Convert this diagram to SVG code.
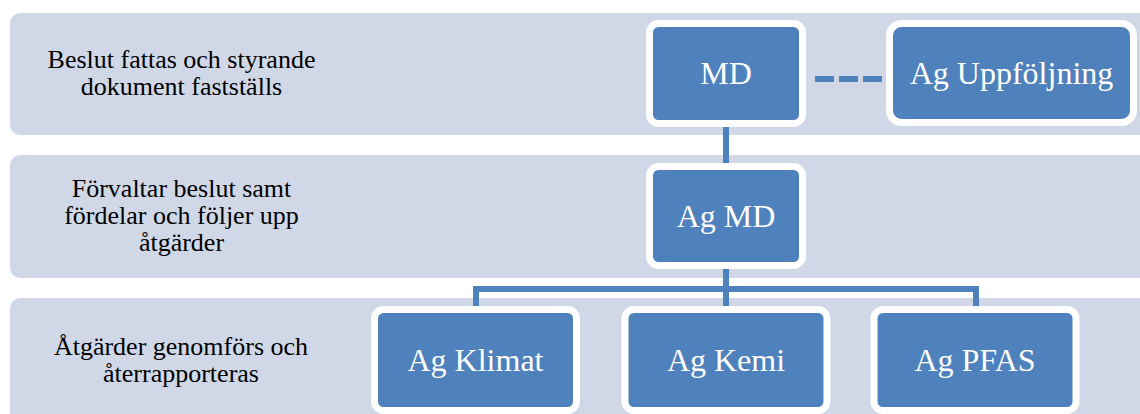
<svg xmlns="http://www.w3.org/2000/svg" width="1140" height="414" viewBox="0 0 1140 414">
  <style>
    .band { fill: #D0D8E8; }
    .lbl { font-family: 'Liberation Serif', 'DejaVu Serif', serif; font-size: 26px; fill: #000000; text-anchor: middle; }
    .node rect { fill: #4F81BD; stroke: #FFFFFF; stroke-width: 7; }
    .node text { font-family: 'Liberation Serif', 'DejaVu Serif', serif; font-size: 32px; fill: #FFFFFF; text-anchor: middle; }
    .conn { fill: none; stroke: #4F81BD; stroke-width: 6; }
  </style>
  <rect width="1140" height="414" fill="#FFFFFF"/>

  <g id="band1">
    <rect class="band" x="10" y="13" width="1150" height="122" rx="10"/>
    <text class="lbl" x="181.5" y="68" font-family="Liberation Serif, serif">Beslut fattas och styrande</text>
    <text class="lbl" x="181.5" y="95" font-family="Liberation Serif, serif">dokument fastställs</text>
  </g>
  <g id="band2">
    <rect class="band" x="10" y="155" width="1150" height="123" rx="10"/>
    <text class="lbl" x="181.5" y="197" font-family="Liberation Serif, serif">Förvaltar beslut samt</text>
    <text class="lbl" x="181.5" y="224" font-family="Liberation Serif, serif">fördelar och följer upp</text>
    <text class="lbl" x="181.5" y="251" font-family="Liberation Serif, serif">åtgärder</text>
  </g>
  <g id="band3">
    <rect class="band" x="10" y="298" width="1150" height="130" rx="10"/>
    <text class="lbl" x="181" y="355" font-family="Liberation Serif, serif">Åtgärder genomförs och</text>
    <text class="lbl" x="181" y="382" font-family="Liberation Serif, serif">återrapporteras</text>
  </g>

  <g id="connectors">
    <path class="conn" d="M726 127 V166"/>
    <path class="conn" d="M815 79 H882" stroke-dasharray="19 5"/>
    <path class="conn" d="M726 266 V309"/>
    <path class="conn" d="M476 309 V289 H976 V309" stroke-width="5"/>
  </g>

  <g id="node-md" class="node">
    <rect x="649.5" y="23.5" width="153" height="100" rx="9"/>
    <text x="726" y="84" font-family="Liberation Serif, serif">MD</text>
  </g>
  <g id="node-ag-uppfoljning" class="node">
    <rect x="889.5" y="23.5" width="244" height="99" rx="12"/>
    <text x="1011.5" y="84" font-family="Liberation Serif, serif">Ag Uppföljning</text>
  </g>
  <g id="node-ag-md" class="node">
    <rect x="649.5" y="166.5" width="153" height="99" rx="9"/>
    <text x="726" y="227" font-family="Liberation Serif, serif">Ag MD</text>
  </g>
  <g id="node-ag-klimat" class="node">
    <rect x="374.5" y="309.5" width="202" height="101" rx="9"/>
    <text x="475.5" y="371" font-family="Liberation Serif, serif">Ag Klimat</text>
  </g>
  <g id="node-ag-kemi" class="node">
    <rect x="625" y="309.5" width="202" height="101" rx="9"/>
    <text x="726" y="371" font-family="Liberation Serif, serif">Ag Kemi</text>
  </g>
  <g id="node-ag-pfas" class="node">
    <rect x="874" y="309.5" width="202" height="101" rx="9"/>
    <text x="975" y="371" font-family="Liberation Serif, serif">Ag PFAS</text>
  </g>
</svg>
